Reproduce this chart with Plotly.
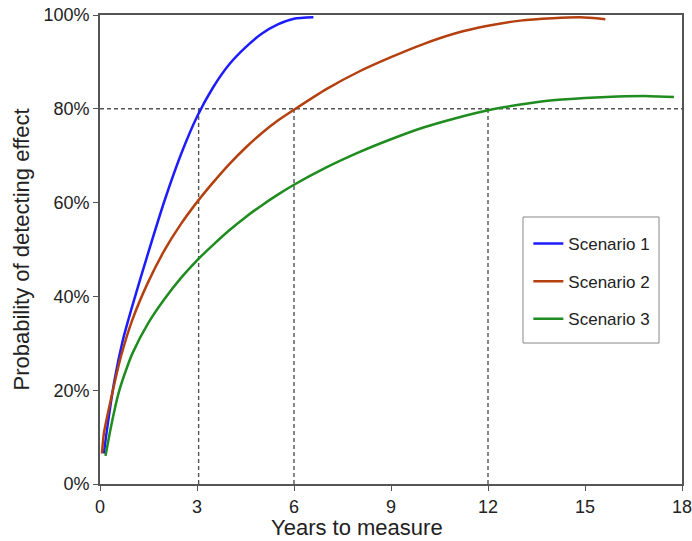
import plotly.graph_objects as go

# values (years, % probability)
blue_x = [0.12, 0.2, 0.45, 0.7, 1.0, 1.5, 2.0, 2.5, 3.0, 3.5, 4.0, 4.5, 5.0, 5.5, 6.0, 6.6]
blue_y = [6.5, 10.8, 22.2, 30.5, 38, 49.5, 60.5, 70.2, 78.3, 84.6, 89.5, 93.1, 96, 98, 99.2, 99.5]

red_x = [0.06, 0.12, 0.4, 0.66, 1.0, 1.5, 2.0, 2.5, 3.0, 3.5, 4.0, 4.5, 5.0, 5.5, 6.0,
         7.0, 8.0, 9.0, 10.0, 11.0, 12.0, 13.0, 14.0, 14.86, 15.63]
red_y = [6.5, 10.8, 20, 27.5, 35, 43.2, 49.9, 55.4, 60.1, 64.3, 68.2, 71.7, 74.8, 77.5, 79.8,
         84.2, 87.9, 91.0, 93.8, 96.1, 97.7, 98.8, 99.3, 99.5, 99.1]

green_x = [0.17, 0.3, 0.45, 0.6, 0.8, 1.0, 1.5, 2.0, 2.5, 3.0, 3.5, 4.0, 4.5, 5.0, 5.5, 6.0,
           7.0, 8.0, 9.0, 10.0, 11.0, 12.0, 13.0, 14.0, 15.0, 16.0, 17.0, 17.75]
green_y = [6, 10.8, 15.8, 20, 24.2, 27.8, 34.4, 39.5, 43.9, 47.7, 51, 54.1, 56.9, 59.4, 61.7, 63.8,
           67.5, 70.7, 73.5, 76.0, 78.0, 79.7, 80.9, 81.8, 82.3, 82.6, 82.7, 82.5]

names = ["Scenario 1", "Scenario 2", "Scenario 3"]
colors = ["#1c1cff", "#b4400f", "#1e8c1e"]

target = 80
cross_years = [3.05, 6, 12]
x_ticks = [0, 3, 6, 9, 12, 15, 18]
y_ticks = [0, 20, 40, 60, 80, 100]
y_labels = ["0%", "20%", "40%", "60%", "80%", "100%"]

fig = go.Figure()

series = [(blue_x, blue_y), (red_x, red_y), (green_x, green_y)]
for i, (xs, ys) in enumerate(series):
    fig.add_trace(go.Scatter(
        x=xs, y=ys, mode="lines", name=names[i],
        legendgroup=names[i],
        line=dict(color=colors[i], width=2.5, shape="spline", smoothing=0.6)))

# dashed guide lines at the 80% level
guide = dict(color="#555555", width=1.4, dash="4px,3px")
shapes = [dict(type="line", xref="x", yref="y", x0=0, x1=18, y0=target, y1=target,
               line=guide, layer="below")]
for yr in cross_years:
    shapes.append(dict(type="line", xref="x", yref="y", x0=yr, x1=yr, y0=0, y1=target,
                       line=guide, layer="below"))
# legend frame (drawn separately so it can be padded like the original)
shapes.append(dict(type="rect", xref="paper", yref="paper", x0=0.7268, x1=0.9605,
                   y0=0.3006, y1=0.5693, line=dict(color="#888888", width=1),
                   fillcolor="white", layer="above"))

fig.update_layout(
    width=692, height=541,
    margin=dict(l=100, r=10, t=15, b=57),
    paper_bgcolor="white", plot_bgcolor="white",
    font=dict(family="Liberation Sans, Arial, sans-serif", size=18, color="#222222"),
    shapes=shapes,
    legend=dict(
        x=0.736, y=0.550, xanchor="left", yanchor="top",
        borderwidth=0, bgcolor="rgba(0,0,0,0)",
        font=dict(size=17, color="#222222"),
        traceorder="grouped", tracegroupgap=12.5,
        itemwidth=30),
    annotations=[
        dict(text="Years to measure", xref="paper", yref="paper", x=0.442, y=-0.0917,
             xanchor="center", yanchor="middle", showarrow=False, font=dict(size=22)),
        dict(text="Probability of detecting effect", xref="paper", yref="paper",
             x=-0.1357, y=0.5, xanchor="center", yanchor="middle", textangle=-90,
             showarrow=False, font=dict(size=22)),
    ],
    xaxis=dict(
        range=[0, 18], tickvals=x_ticks, showgrid=False, zeroline=False, automargin=False,
        showline=True, linecolor="#555555", linewidth=1.8, mirror=True,
        ticks="outside", ticklen=5, tickcolor="#555555", ticklabeloverflow="allow"),
    yaxis=dict(
        range=[0, 100], tickvals=y_ticks, ticktext=y_labels, showgrid=False, zeroline=False,
        automargin=False,
        showline=True, linecolor="#555555", linewidth=1.8, mirror=True,
        ticks="outside", ticklen=5, tickcolor="#555555", ticklabeloverflow="allow"),
)

# drop the browser's default 8px page margin so the figure fills the window
fig.write_html("out.html", config={"displayModeBar": False},
               post_script="document.body.style.margin = '0';")
